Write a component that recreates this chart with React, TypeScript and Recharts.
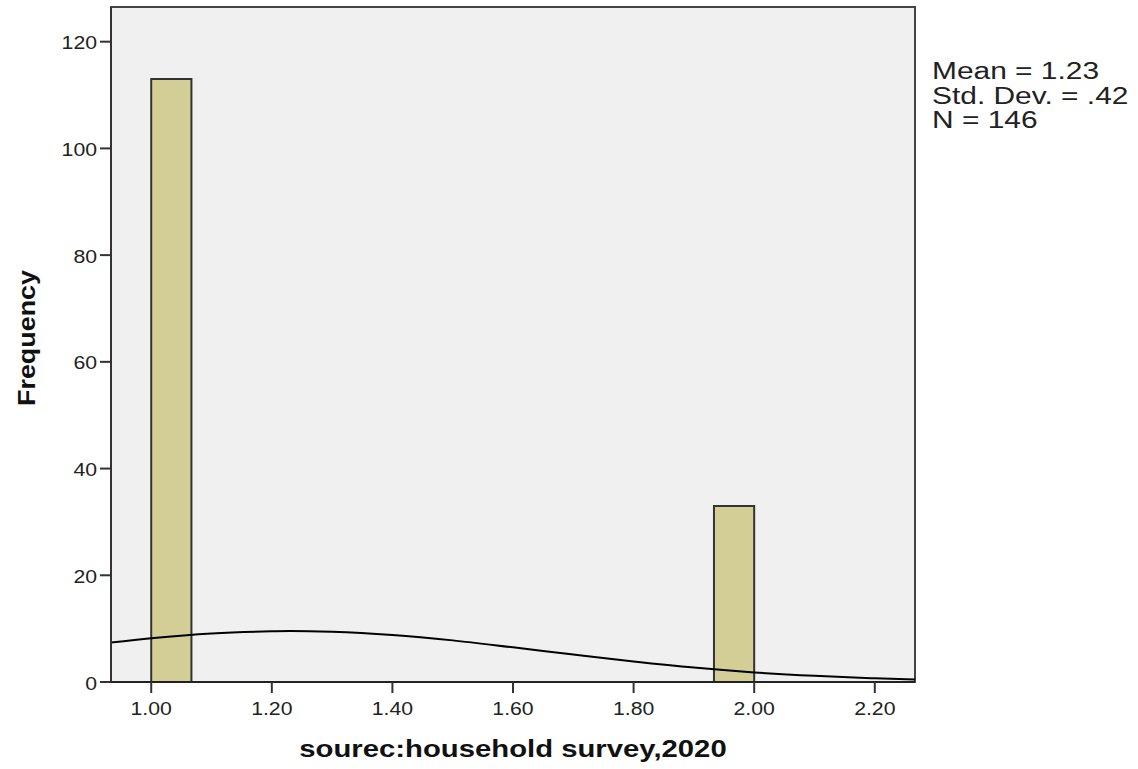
import React from "react";
import { ComposedChart, XAxis, YAxis, Line, ReferenceArea, CartesianGrid } from "recharts";

// Histogram bins (bin start, bin end, frequency)
const binStarts = [1.0, 1.9333];
const binEnds = [1.0667, 2.0];
const binCounts = [113, 33];

// Normal curve
const curveX = [0.9333, 1.0, 1.1, 1.2, 1.23, 1.3, 1.4, 1.5, 1.6, 1.7, 1.8, 1.9, 2.0, 2.1, 2.2, 2.2667];
const curveY = [7.4, 8.2, 9.1, 9.5, 9.55, 9.4, 8.8, 7.8, 6.5, 5.15, 3.85, 2.7, 1.8, 1.15, 0.7, 0.45];

const xTicks = [1.0, 1.2, 1.4, 1.6, 1.8, 2.0, 2.2];
const yTicks = [0, 20, 40, 60, 80, 100, 120];
const xDomain = [0.9333, 2.2667];
const yDomain = [0, 126.5];

const statLines = ["Mean = 1.23", "Std. Dev. = .42", "N = 146"];
const xTitle = "sourec:household survey,2020";
const yTitle = "Frequency";

const curveData = curveX.map((x, i) => ({ x, y: curveY[i] }));

const FONT = "'Liberation Sans', Arial, sans-serif";

const XTick = (props: any) => {
  const { x, y, payload } = props;
  return (
    <text
      transform={`translate(${x},${y + 20}) scale(1.18,1)`}
      textAnchor="middle"
      fontFamily={FONT}
      fontSize={18}
      fill="#222"
    >
      {Number(payload.value).toFixed(2)}
    </text>
  );
};

const YTick = (props: any) => {
  const { x, y, payload } = props;
  return (
    <text
      transform={`translate(${x - 1},${y + 7.5}) scale(1.18,1)`}
      textAnchor="end"
      fontFamily={FONT}
      fontSize={18}
      fill="#222"
    >
      {payload.value}
    </text>
  );
};

export default function App() {
  return (
    <div style={{ position: "absolute", left: 0, top: 0, width: 1138, height: 769, background: "#fff" }}>
      <ComposedChart
        width={1138}
        height={769}
        data={curveData}
        margin={{ top: 7, right: 223, bottom: 47, left: 51 }}
      >
        <CartesianGrid horizontal={false} vertical={false} fill="#F0F0F0" />
        <XAxis
          type="number"
          dataKey="x"
          domain={xDomain}
          ticks={xTicks}
          allowDataOverflow
          height={40}
          tickSize={11}
          tick={<XTick />}
          axisLine={{ stroke: "#222", strokeWidth: 2 }}
          tickLine={{ stroke: "#333", strokeWidth: 2 }}
          label={{
            content: () => (
              <text
                transform={`translate(513,757) scale(1.22,1)`}
                textAnchor="middle"
                fontFamily={FONT}
                fontWeight="bold"
                fontSize={24}
                fill="#111"
              >
                {xTitle}
              </text>
            ),
          }}
        />
        <YAxis
          type="number"
          domain={yDomain}
          ticks={yTicks}
          allowDataOverflow
          width={60}
          tickSize={11}
          tick={<YTick />}
          axisLine={{ stroke: "#333", strokeWidth: 2 }}
          tickLine={{ stroke: "#333", strokeWidth: 2 }}
          label={{
            content: () => (
              <text
                transform={`translate(35,338) rotate(-90) scale(1.12,1)`}
                textAnchor="middle"
                fontFamily={FONT}
                fontWeight="bold"
                fontSize={24}
                fill="#111"
              >
                {yTitle}
              </text>
            ),
          }}
        />
        {binStarts.map((s, i) => (
          <ReferenceArea
            key={i}
            x1={s}
            x2={binEnds[i]}
            y1={0}
            y2={binCounts[i]}
            fill="#D2CE96"
            fillOpacity={1}
            stroke="#333"
            strokeWidth={2}
            ifOverflow="visible"
          />
        ))}
        <Line
          type="monotone"
          dataKey="y"
          stroke="#000"
          strokeWidth={2}
          dot={false}
          isAnimationActive={false}
        />
        <ReferenceArea
          x1={xDomain[0]}
          x2={xDomain[1]}
          y1={yDomain[0]}
          y2={yDomain[1]}
          fill="none"
          stroke="#444"
          strokeWidth={2}
          ifOverflow="visible"
        />
      </ComposedChart>
      <div
        style={{
          position: "absolute",
          left: 932,
          top: 59,
          fontFamily: FONT,
          fontSize: 23,
          lineHeight: "24.5px",
          color: "#222",
          transform: "scaleX(1.3)",
          transformOrigin: "left top",
          whiteSpace: "nowrap",
        }}
      >
        {statLines.map((t, i) => (
          <div key={i}>{t}</div>
        ))}
      </div>
    </div>
  );
}
